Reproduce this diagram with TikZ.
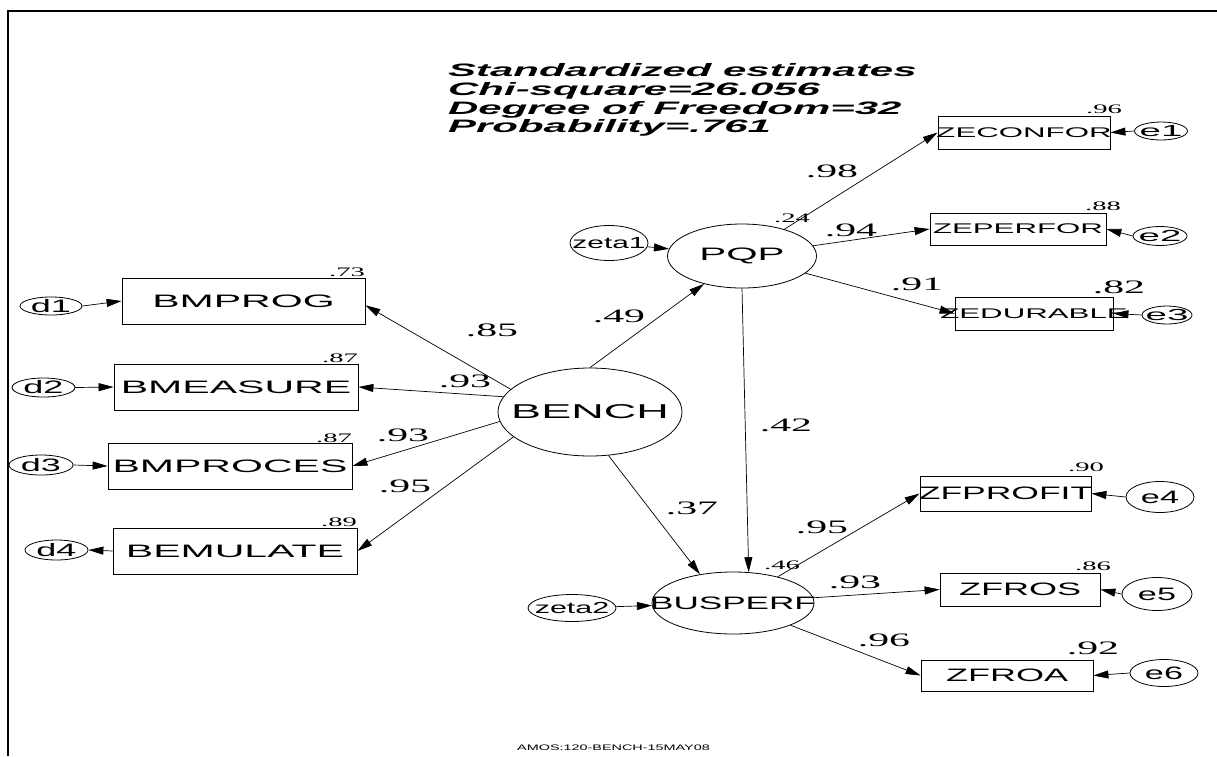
\documentclass[tikz,border=0pt]{standalone}
\usepackage{graphicx}
\usepackage{fontspec}
\setmainfont{Liberation Serif}
\newfontfamily\arialf{Liberation Sans}
\usetikzlibrary{shapes.geometric,arrows.meta}
\newcommand{\SX}[2]{\scalebox{#1}[1]{#2}}
\newcommand{\fbig}{\arialf\fontsize{18}{20}\selectfont}
\newcommand{\fmid}{\arialf\fontsize{14}{16}\selectfont}
\newcommand{\fbench}{\arialf\fontsize{20}{22}\selectfont}
\newcommand{\fdd}{\arialf\fontsize{18}{20}\selectfont}
\newcommand{\fee}{\arialf\fontsize{16}{18}\selectfont}
\newcommand{\fzeta}{\arialf\fontsize{16}{18}\selectfont}
\newcommand{\ftitle}{\arialf\bfseries\itshape\fontsize{18}{20}\selectfont}
\newcommand{\ffoot}{\arialf\fontsize{8}{9}\selectfont}
\newcommand{\fnum}{\rmfamily\fontsize{19}{21}\selectfont}
\newcommand{\fsnum}{\rmfamily\fontsize{13}{15}\selectfont}
\begin{document}
\begin{tikzpicture}[x=1pt,y=-1pt,
  box/.style={draw,rectangle,inner sep=0pt,line width=0.8pt},
  ell/.style={draw,ellipse,inner sep=0pt,line width=0.8pt},
  arr/.style={-{Triangle[length=15pt,width=8pt]},line width=0.7pt},
  num/.style={inner sep=0pt,font=\fnum},
  snum/.style={inner sep=0pt,font=\fsnum},
  ttl/.style={anchor=base west,inner sep=0pt,font=\ftitle}]
\useasboundingbox (0,0) rectangle (1217,756);
\fill[white] (0,0) rectangle (1217,756);
\draw[line width=2pt] (8.3,756) -- (8.3,11) -- (1217,11);

% title
\node[ttl] (t1) at (448,76) {\SX{2.33}{Standardized estimates}};
\node[ttl] (t2) at (448,95) {\SX{2.33}{Chi-square=26.056}};
\node[ttl] (t3) at (448,114) {\SX{2.33}{Degree of Freedom=32}};
\node[ttl] (t4) at (448,132) {\SX{2.33}{Probability=.761}};

% left observed
\node[box,minimum width=243pt,minimum height=46pt,label={[font=\fbig]center:\SX{2.28}{BMPROG}}] (BMPROG) at (243.5,301) {};
\node[box,minimum width=244pt,minimum height=46pt,label={[font=\fbig]center:\SX{2.28}{BMEASURE}}] (BMEASURE) at (236,387) {};
\node[box,minimum width=244pt,minimum height=46pt,label={[font=\fbig]center:\SX{2.28}{BMPROCES}}] (BMPROCES) at (230,466) {};
\node[box,minimum width=244pt,minimum height=46pt,label={[font=\fbig]center:\SX{2.28}{BEMULATE}}] (BEMULATE) at (235,551) {};

\node[ell,minimum width=62pt,minimum height=18pt,label={[font=\fdd]center:\SX{2.0}{d1}}] (d1) at (51,306) {};
\node[ell,minimum width=63pt,minimum height=19pt,label={[font=\fdd]center:\SX{2.0}{d2}}] (d2) at (43.5,387.5) {};
\node[ell,minimum width=64pt,minimum height=20pt,label={[font=\fdd]center:\SX{2.0}{d3}}] (d3) at (41,465) {};
\node[ell,minimum width=63pt,minimum height=20pt,label={[font=\fdd]center:\SX{2.0}{d4}}] (d4) at (56.5,550) {};

% latent
\node[ell,minimum width=184pt,minimum height=88pt,label={[font=\fbench]center:\SX{2.25}{BENCH}}] (BENCH) at (590,412) {};
\node[ell,minimum width=149pt,minimum height=64pt,label={[font=\fbig]center:\SX{2.24}{PQP}}] (PQP) at (742,256) {};
\node[ell,minimum width=162pt,minimum height=62pt,label={[font=\fbig]center:\SX{1.95}{BUSPERF}}] (BUSPERF) at (733,603) {};
\node[ell,minimum width=78pt,minimum height=35pt,label={[font=\fzeta]center:\SX{1.87}{zeta1}}] (zeta1) at (609,243) {};
\node[ell,minimum width=88pt,minimum height=27pt,label={[font=\fzeta]center:\SX{1.9}{zeta2}}] (zeta2) at (572,608) {};

% right observed
\node[box,minimum width=172pt,minimum height=33pt,label={[font=\fmid]center:\SX{2.23}{ZECONFOR}}] (ZECONFOR) at (1024,132.5) {};
\node[box,minimum width=176pt,minimum height=32pt,label={[font=\fmid]center:\SX{2.23}{ZEPERFOR}}] (ZEPERFOR) at (1018,229) {};
\node[box,minimum width=158pt,minimum height=33pt,label={[font=\fmid]center:\SX{2.23}{ZEDURABLE}}] (ZEDURABLE) at (1034,313.5) {};
\node[box,minimum width=171pt,minimum height=35pt,label={[font=\fbig]center:\SX{1.97}{ZFPROFIT}}] (ZFPROFIT) at (1005.5,493.5) {};
\node[box,minimum width=160pt,minimum height=33pt,label={[font=\fbig]center:\SX{2.0}{ZFROS}}] (ZFROS) at (1020,589.5) {};
\node[box,minimum width=172pt,minimum height=31pt,label={[font=\fbig]center:\SX{2.0}{ZFROA}}] (ZFROA) at (1007,675.5) {};

\node[ell,minimum width=53pt,minimum height=18pt,label={[font=\fee]center:\SX{2.4}{e1}}] (e1) at (1161,131) {};
\node[ell,minimum width=54pt,minimum height=19pt,label={[font=\fee]center:\SX{2.4}{e2}}] (e2) at (1160,236) {};
\node[ell,minimum width=50pt,minimum height=18pt,label={[font=\fee]center:\SX{2.4}{e3}}] (e3) at (1167,315) {};
\node[ell,minimum width=68pt,minimum height=31pt,label={[font=\fbig]center:\SX{1.9}{e4}}] (e4) at (1160,497) {};
\node[ell,minimum width=70pt,minimum height=33pt,label={[font=\fbig]center:\SX{1.9}{e5}}] (e5) at (1157,594) {};
\node[ell,minimum width=68pt,minimum height=27pt,label={[font=\fbig]center:\SX{1.9}{e6}}] (e6) at (1164,673) {};

% connectors
\draw[arr] (d1.east) -- (BMPROG.west);
\draw[arr] (d2.east) -- (BMEASURE.west);
\draw[arr] (d3.east) -- (BMPROCES.west);
\draw[arr] (BEMULATE.west) -- (d4.east);
\draw[arr] (BENCH.164) -- (BMPROG.-2.4);
\draw[arr] (BENCH.170) -- (BMEASURE.east);
\draw[arr] (BENCH.186) -- (BMPROCES.east);
\draw[arr] (BENCH.198) -- (BEMULATE.east);
\draw[arr] (BENCH.north) -- (PQP);
\draw[arr] (BENCH.-67) -- (BUSPERF.139);
\draw[arr] (PQP.south) -- (BUSPERF.63);
\draw[arr] (zeta1) -- (PQP);
\draw[arr] (zeta2) -- (BUSPERF);
\draw[arr] (PQP) -- (ZECONFOR.west);
\draw[arr] (PQP) -- (ZEPERFOR.west);
\draw[arr] (PQP) -- (ZEDURABLE.west);
\draw[arr] (BUSPERF) -- (ZFPROFIT.west);
\draw[arr] (BUSPERF) -- (ZFROS.west);
\draw[arr] (BUSPERF) -- (ZFROA.west);
\draw[arr] (e1.west) -- (ZECONFOR.east);
\draw[arr] (e2.west) -- (ZEPERFOR.east);
\draw[arr] (e3.west) -- (ZEDURABLE.east);
\draw[arr] (e4.west) -- (ZFPROFIT.east);
\draw[arr] (e5.west) -- (ZFROS.east);
\draw[arr] (e6.west) -- (ZFROA.east);

% small labels (squared multiple correlations)
\node[snum] (r73) at (347,272) {\SX{2.2}{.73}};
\node[snum] (r87a) at (340,358) {\SX{2.2}{.87}};
\node[snum] (r87b) at (334,438) {\SX{2.2}{.87}};
\node[snum] (r89) at (339,522) {\SX{2.2}{.89}};
\node[snum] (r96) at (1104,109) {\SX{2.2}{.96}};
\node[snum] (r88) at (1103,206) {\SX{2.2}{.88}};
\node[snum] (r24) at (792,218) {\SX{2.2}{.24}};
\node[snum] (r46) at (782,565) {\SX{2.2}{.46}};
\node[snum] (r90) at (1086,467) {\SX{2.2}{.90}};
\node[snum] (r86) at (1093,566) {\SX{2.2}{.86}};
\node[num] (r82) at (1119,287) {\SX{2.2}{.82}};
\node[num] (r92) at (1093,648) {\SX{2.2}{.92}};

% path coefficients
\node[num] (p85) at (492,330) {\SX{2.2}{.85}};
\node[num] (p93a) at (465,381) {\SX{2.2}{.93}};
\node[num] (p93b) at (403,435) {\SX{2.2}{.93}};
\node[num] (p95a) at (405,486) {\SX{2.2}{.95}};
\node[num] (p49) at (619,316) {\SX{2.2}{.49}};
\node[num] (p42) at (786,425) {\SX{2.2}{.42}};
\node[num] (p37) at (692,508) {\SX{2.2}{.37}};
\node[num] (p98) at (832,171) {\SX{2.2}{.98}};
\node[num] (p94) at (851,230) {\SX{2.2}{.94}};
\node[num] (p91) at (917,284) {\SX{2.2}{.91}};
\node[num] (p95b) at (822,527) {\SX{2.2}{.95}};
\node[num] (p93c) at (855,582) {\SX{2.2}{.93}};
\node[num] (p96) at (884,640) {\SX{2.2}{.96}};

\node[anchor=west,inner sep=0pt,font=\ffoot] (foot) at (517,748) {\SX{1.8}{AMOS:120-BENCH-15MAY08}};
\end{tikzpicture}
\end{document}
